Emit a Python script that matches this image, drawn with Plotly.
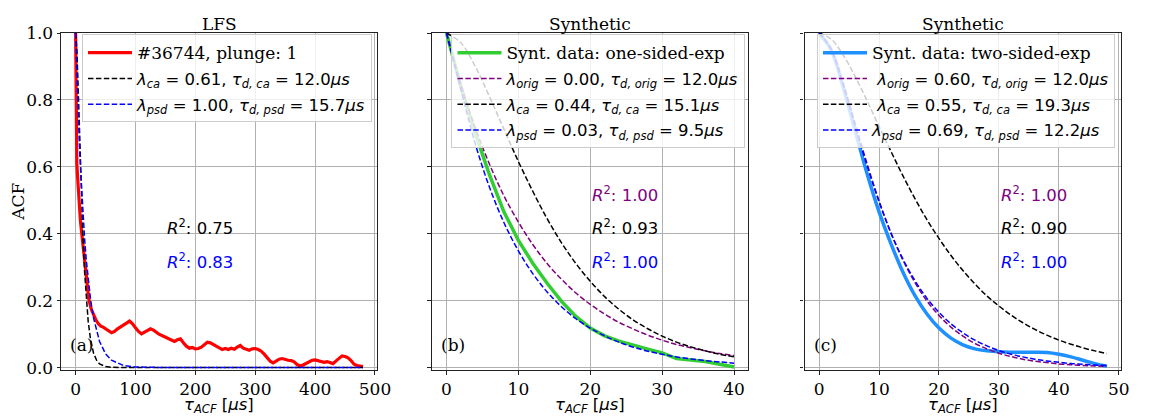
import plotly.graph_objects as go

# ---------------- data ----------------
# (a) LFS probe, shot #36744, plunge 1
lfs_tau = [0, 1, 2, 4, 6, 8, 10, 12, 15, 19, 22, 26, 30, 34, 38, 42, 46, 50, 55, 60,
           65, 70, 75, 80, 85, 90, 95, 100, 105, 110, 115, 120, 125, 130, 135, 140,
           145, 150, 155, 160, 165, 170, 175, 180, 185, 190, 195, 200, 205, 210, 215,
           220, 225, 230, 235, 240, 245, 250, 255, 260, 265, 270, 275, 280, 285, 290,
           295, 300, 305, 310, 315, 320, 325, 330, 335, 340, 345, 350, 355, 360, 365,
           370, 375, 380, 385, 390, 395, 400, 405, 410, 415, 420, 425, 430, 435, 440,
           445, 450, 455, 460, 465, 470, 475, 480]
lfs_acf = [1.0, 0.72, 0.61, 0.55, 0.48, 0.44, 0.405, 0.37, 0.32, 0.25, 0.205, 0.175,
           0.158, 0.142, 0.131, 0.124, 0.121, 0.117, 0.11, 0.104, 0.108, 0.116, 0.121,
           0.127, 0.133, 0.139, 0.131, 0.119, 0.108, 0.101, 0.106, 0.113, 0.116, 0.112,
           0.104, 0.099, 0.095, 0.091, 0.087, 0.082, 0.078, 0.083, 0.086, 0.074, 0.064,
           0.058, 0.06, 0.056, 0.057, 0.061, 0.069, 0.076, 0.074, 0.069, 0.063, 0.057,
           0.054, 0.057, 0.054, 0.058, 0.055, 0.061, 0.066, 0.058, 0.054, 0.052, 0.056,
           0.057, 0.054, 0.049, 0.04, 0.029, 0.019, 0.014, 0.019, 0.025, 0.027, 0.024,
           0.022, 0.021, 0.017, 0.009, 0.005, 0.008, 0.013, 0.018, 0.022, 0.023, 0.02,
           0.017, 0.016, 0.018, 0.014, 0.012, 0.02, 0.029, 0.035, 0.033, 0.029, 0.021,
           0.01, 0.006, 0.005, 0.003]
fit_tau_a = [0, 2, 4, 6, 8, 10, 12, 15, 18, 21, 25, 30, 35, 40, 50, 60, 80, 100, 150,
             200, 300, 400, 480]
ca_fit_a = [1.0, 0.954, 0.851, 0.730, 0.609, 0.498, 0.402, 0.285, 0.199, 0.138, 0.083,
            0.043, 0.022, 0.011, 0.003, 0.001, 0.0, 0.0, 0.0, 0.0, 0.0, 0.0, 0.0]
psd_fit_a = [1.0, 0.880, 0.775, 0.682, 0.601, 0.529, 0.466, 0.385, 0.318, 0.262, 0.203,
             0.148, 0.108, 0.078, 0.041, 0.022, 0.006, 0.002, 0.0, 0.0, 0.0, 0.0, 0.0]

# (b) synthetic data, one-sided exponential pulses
tau_b = [0, 2, 4, 6, 8, 10, 12, 14, 16, 18, 20, 22, 24, 26, 28, 30, 32, 34, 36, 38, 40]
synt_b = [1.0, 0.84, 0.70, 0.575, 0.465, 0.38, 0.312, 0.252, 0.198, 0.153, 0.118, 0.095,
          0.079, 0.066, 0.055, 0.044, 0.027, 0.023, 0.018, 0.010, 0.002]
orig_b = [1.0, 0.846, 0.717, 0.607, 0.513, 0.435, 0.368, 0.311, 0.264, 0.223, 0.189,
          0.160, 0.135, 0.115, 0.097, 0.082, 0.069, 0.059, 0.050, 0.042, 0.036]
ca_b = [1.0, 0.971, 0.900, 0.809, 0.712, 0.616, 0.527, 0.445, 0.373, 0.311, 0.258, 0.212,
        0.174, 0.142, 0.116, 0.094, 0.076, 0.062, 0.050, 0.040, 0.032]
psd_b = [1.0, 0.831, 0.669, 0.538, 0.433, 0.349, 0.281, 0.226, 0.182, 0.146, 0.118,
         0.095, 0.076, 0.061, 0.049, 0.040, 0.032, 0.026, 0.021, 0.017, 0.013]

# (c) synthetic data, two-sided exponential pulses
tau_c = [0, 2, 4, 6, 8, 10, 12, 14, 16, 18, 20, 22, 24, 26, 28, 30, 32, 34, 36, 38, 40,
         42, 44, 46, 48]
synt_c = [1.0, 0.95, 0.84, 0.71, 0.58, 0.466, 0.37, 0.285, 0.215, 0.16, 0.118, 0.088,
          0.068, 0.056, 0.05, 0.047, 0.046, 0.046, 0.046, 0.045, 0.04, 0.032, 0.022,
          0.012, 0.004]
orig_c = [1.0, 0.954, 0.852, 0.731, 0.610, 0.499, 0.402, 0.321, 0.254, 0.199, 0.156,
          0.121, 0.094, 0.072, 0.056, 0.043, 0.033, 0.025, 0.019, 0.015, 0.011, 0.0085,
          0.0064, 0.0049, 0.0038]
ca_c = [1.0, 0.982, 0.935, 0.871, 0.798, 0.721, 0.646, 0.573, 0.505, 0.442, 0.386, 0.335,
        0.290, 0.250, 0.214, 0.184, 0.157, 0.134, 0.114, 0.097, 0.082, 0.070, 0.059,
        0.050, 0.042]
psd_c = [1.0, 0.951, 0.846, 0.723, 0.604, 0.496, 0.402, 0.324, 0.260, 0.207, 0.165,
         0.131, 0.104, 0.082, 0.065, 0.051, 0.040, 0.032, 0.025, 0.020, 0.016, 0.012,
         0.0098, 0.0077, 0.0061]

# goodness-of-fit values shown in each panel
r2_a = ["0.75", "0.83"]
r2_b = ["1.00", "0.93", "1.00"]
r2_c = ["1.00", "0.90", "1.00"]

# ---------------- styling helpers ----------------
SERIF = "DejaVu Serif"
SANS = "DejaVu Sans"
DASH = "5.5px,2.4px"
FS = 16.5       # math / sans text
FS_SERIF = 17   # serif text (titles, ticks, labels)


def serif(txt):
    return f'<span style="font-family:{SERIF};font-size:{FS_SERIF}px">{txt}</span>'


def fit_label(name, lam, tau, lead=""):
    return (f"{lead}<i>λ</i><sub><i>{name}</i></sub> = {lam}, "
            f"<i>τ</i><sub><i>d, {name}</i></sub> = {tau}<i>μs</i>")


fig = go.Figure()


def add_line(x, y, name, color, width, panel, dash=None, shape="linear"):
    sfx = "" if panel == 1 else str(panel)
    fig.add_trace(go.Scatter(
        x=x, y=y, mode="lines", name=name,
        line=dict(color=color, width=width, dash=dash, shape=shape),
        xaxis="x" + sfx, yaxis="y" + sfx, legend="legend" + sfx,
        legendgroup=f"{panel}-{len(fig.data)}"))


# ---- panel (a)
add_line(lfs_tau, lfs_acf, serif("#36744, plunge: 1"), "#ff0000", 3.2, 1)
add_line(fit_tau_a, ca_fit_a, fit_label("ca", "0.61", "12.0"), "black", 1.5, 1, DASH)
add_line(fit_tau_a, psd_fit_a, fit_label("psd", "1.00", "15.7"), "#0000ff", 1.5, 1, DASH)

# ---- panel (b)
add_line(tau_b, synt_b, serif("Synt. data: one-sided-exp"), "#32cd32", 3.5, 2)
add_line(tau_b, orig_b, fit_label("orig", "0.00", "12.0"), "#800080", 1.5, 2, DASH, "spline")
add_line(tau_b, ca_b, fit_label("ca", "0.44", "15.1"), "black", 1.5, 2, DASH, "spline")
add_line(tau_b, psd_b, fit_label("psd", "0.03", "9.5"), "#0000ff", 1.5, 2, DASH, "spline")

# ---- panel (c)
add_line(tau_c, synt_c, serif("Synt. data: two-sided-exp"), "#1e90ff", 3.5, 3, None, "spline")
add_line(tau_c, orig_c, fit_label("orig", "0.60", "12.0", "\u00a0"), "#800080", 1.5, 3,
         DASH, "spline")
add_line(tau_c, ca_c, fit_label("ca", "0.55", "19.3", "\u00a0"), "black", 1.5, 3,
         DASH, "spline")
add_line(tau_c, psd_c, fit_label("psd", "0.69", "12.2"), "#0000ff", 1.5, 3, DASH, "spline")

# ---------------- axes ----------------
W, H = 1157, 419
y_dom = [1 - 375.5 / H, 1 - 24 / H]
x_doms = [[62 / W, 382 / W], [437.4 / W, 757.6 / W], [814.5 / W, 1135 / W]]
x_ranges = [[-24, 504], [-2, 42], [-2.4, 50.4]]
x_dticks = [100, 10, 10]

frame = dict(showline=True, mirror=True, linecolor="#222222", linewidth=1.3,
             showgrid=True, gridcolor="#b0b0b0", gridwidth=1, zeroline=False,
             ticks="outside", ticklen=3.5, tickwidth=1, tickcolor="#222222",
             tickfont=dict(family=SERIF, size=FS_SERIF, color="black"))

layout = dict(width=W, height=H, margin=dict(l=0, r=0, t=0, b=0),
              paper_bgcolor="white", plot_bgcolor="white",
              font=dict(family=SANS, size=FS, color="black"))
for i in range(3):
    sfx = "" if i == 0 else str(i + 1)
    layout["xaxis" + sfx] = dict(domain=x_doms[i], range=x_ranges[i], tick0=0,
                                 dtick=x_dticks[i], anchor="y" + sfx, **frame)
    layout["yaxis" + sfx] = dict(domain=y_dom, range=[-0.008, 1.0], tick0=0, dtick=0.2,
                                 tickformat=".1f", anchor="x" + sfx,
                                 showticklabels=(i == 0), **frame)

legend_style = dict(xanchor="left", yanchor="top", bgcolor="rgba(255,255,255,0.8)",
                    bordercolor="#cccccc", borderwidth=1,
                    font=dict(family=SANS, size=FS, color="black"),
                    tracegroupgap=1.3, itemwidth=44)
layout["legend"] = dict(x=83 / W, y=1 - 25.5 / H, **legend_style)
layout["legend2"] = dict(x=457 / W, y=1 - 25.5 / H, **legend_style)
layout["legend3"] = dict(x=827 / W, y=1 - 25.5 / H, **legend_style)
fig.update_layout(**layout)

# ---------------- text ----------------
ann = []
titles = ["LFS", "Synthetic", "Synthetic"]
panel_tags = ["(a)", "(b)", "(c)"]
xtitle = "<i>τ</i><sub><i>ACF</i></sub> [<i>μs</i>]"
for i in range(3):
    sfx = "" if i == 0 else str(i + 1)
    xc = (x_doms[i][0] + x_doms[i][1]) / 2
    ann.append(dict(text=titles[i], x=xc, y=1 - 15 / H, xref="paper", yref="paper",
                    xanchor="center", yanchor="middle", showarrow=False,
                    font=dict(family=SERIF, size=FS_SERIF, color="black")))
    ann.append(dict(text=xtitle, x=xc, y=1 - 412 / H, xref="paper", yref="paper",
                    xanchor="center", yanchor="middle", showarrow=False,
                    font=dict(family=SANS, size=FS, color="black")))
    ann.append(dict(text=panel_tags[i], x=0.022, y=0.075, xref=f"x{sfx} domain",
                    yref=f"y{sfx} domain", xanchor="left", yanchor="middle",
                    showarrow=False, font=dict(family=SERIF, size=FS_SERIF, color="black")))

ann.append(dict(text="ACF", x=18 / W, y=1 - 200 / H, xref="paper", yref="paper",
                xanchor="center", yanchor="middle", textangle=-90, showarrow=False,
                font=dict(family=SERIF, size=FS_SERIF, color="black")))


def r2_note(val, x, y, color, sfx):
    return dict(text=f"<i>R</i><sup>2</sup>: {val}", x=x, y=y, xref="x" + sfx,
                yref="y" + sfx, xanchor="left", yanchor="middle", showarrow=False,
                font=dict(family=SANS, size=FS, color=color))


ann.append(r2_note(r2_a[0], 150, 0.42, "black", ""))
ann.append(r2_note(r2_a[1], 150, 0.32, "#0000ff", ""))
for vals, xpos, sfx in [(r2_b, 20, "2"), (r2_c, 30, "3")]:
    ann.append(r2_note(vals[0], xpos, 0.52, "#800080", sfx))
    ann.append(r2_note(vals[1], xpos, 0.42, "black", sfx))
    ann.append(r2_note(vals[2], xpos, 0.32, "#0000ff", sfx))

fig.update_layout(annotations=ann)
fig.write_html("out.html")
